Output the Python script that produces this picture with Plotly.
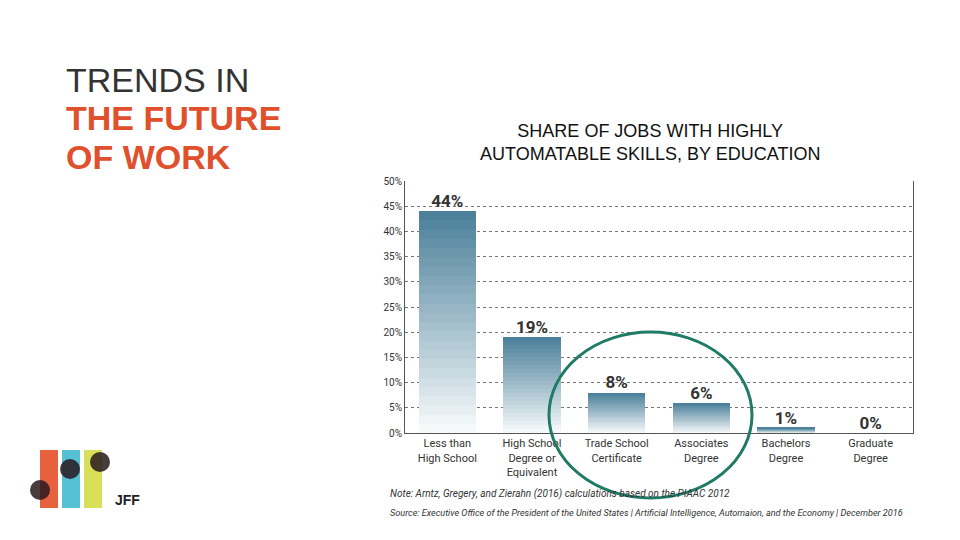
import plotly.graph_objects as go

categories = ["Less than<br>High School", "High School<br>Degree or<br>Equivalent", "Trade School<br>Certificate",
              "Associates<br>Degree", "Bachelors<br>Degree", "Graduate<br>Degree"]
values = [44, 19, 8, 6, 1, 0]
labels = ["44%", "19%", "8%", "6%", "1%", "0%"]
ticks = [0, 5, 10, 15, 20, 25, 30, 35, 40, 45, 50]

L, R, T, B = 405, 913, 181, 433
OFF = 8
def px(x): return (x - L) / (R - L)
def py(y): return (B - y) / (B - T)

N = 24
top = (74, 127, 153)
bot = (250, 252, 253)
fig = go.Figure()
for i in range(N):
    t = (i + 0.5) / N
    c = tuple(int(bot[k] + (top[k] - bot[k]) * t) for k in range(3))
    fig.add_trace(go.Bar(x=list(range(6)), y=[v / N for v in values], width=0.68,
                         marker=dict(color="rgb(%d,%d,%d)" % c, line=dict(width=0)),
                         showlegend=False, hoverinfo="skip"))
fig.add_trace(go.Scatter(x=list(range(6)), y=values, mode="text", text=["<b>%s</b>" % l for l in labels],
                         textposition="top center",
                         textfont=dict(family="Roboto", size=17, color="#333"),
                         showlegend=False, cliponaxis=False))

fig.add_shape(type="circle", xref="paper", yref="paper", x0=px(549), x1=px(752), y0=py(498), y1=py(332),
              line=dict(color="#1f7a66", width=3))

# logo
for x0, col in [(40, "#e8613f"), (62, "#56c1d3"), (84, "#d8e05a")]:
    fig.add_shape(type="rect", xref="paper", yref="paper", x0=px(x0), x1=px(x0 + 18), y0=py(508), y1=py(450),
                  fillcolor=col, line_width=0)
for cx, cy in [(40, 490), (70, 469), (100, 462)]:
    fig.add_shape(type="circle", xref="paper", yref="paper", x0=px(cx - 10), x1=px(cx + 10),
                  y0=py(cy + 10), y1=py(cy - 10), fillcolor="rgba(40,25,30,0.85)", line_width=0)

def note(x, y, text, size, color, family, xanchor="left"):
    fig.add_annotation(xref="paper", yref="paper", x=px(x), y=py(y), xanchor=xanchor, yanchor="middle",
                       showarrow=False, text=text, font=dict(size=size, color=color, family=family))

note(64, 80, "TRENDS IN", 34, "#333", "Liberation Sans")
note(64, 118, "<b>THE FUTURE</b>", 34, "#e0502c", "Liberation Sans")
note(64, 157, "<b>OF WORK</b>", 34, "#e0502c", "Liberation Sans")
note(650, 142, "SHARE OF JOBS WITH HIGHLY<br>AUTOMATABLE SKILLS, BY EDUCATION", 18, "#111", "Liberation Sans", "center")
note(113, 500, "<b>JFF</b>", 14, "#222", "Liberation Sans")
note(388, 494, "<i>Note: Arntz, Gregery, and Zierahn (2016) calculations based on the PIAAC 2012</i>", 10, "#333", "Roboto")
note(388, 513, "<i>Source: Executive Office of the President of the United States | Artificial Intelligence, Automaion, and the Economy | December 2016</i>", 9.1, "#333", "Roboto")

fig.update_layout(
    barmode="stack", bargap=0.32, width=960, height=540,
    margin=dict(l=L - OFF, r=960 - R + OFF, t=T - OFF, b=540 - B + OFF),
    paper_bgcolor="white", plot_bgcolor="white",
    xaxis=dict(tickmode="array", tickvals=list(range(6)), ticktext=categories, range=[-0.5, 5.5],
               showline=True, linecolor="#555", linewidth=1, showgrid=False, ticks="",
               tickfont=dict(family="Roboto", size=11, color="#333")),
    yaxis=dict(range=[0, 50], tickvals=ticks, ticktext=[f"{t}%" for t in ticks],
               showgrid=True, gridcolor="#777", griddash="dot", gridwidth=1,
               showline=True, linecolor="#555", mirror=True, zeroline=False,
               tickfont=dict(family="Roboto", size=10, color="#333")),
)
fig.write_html("out.html")
